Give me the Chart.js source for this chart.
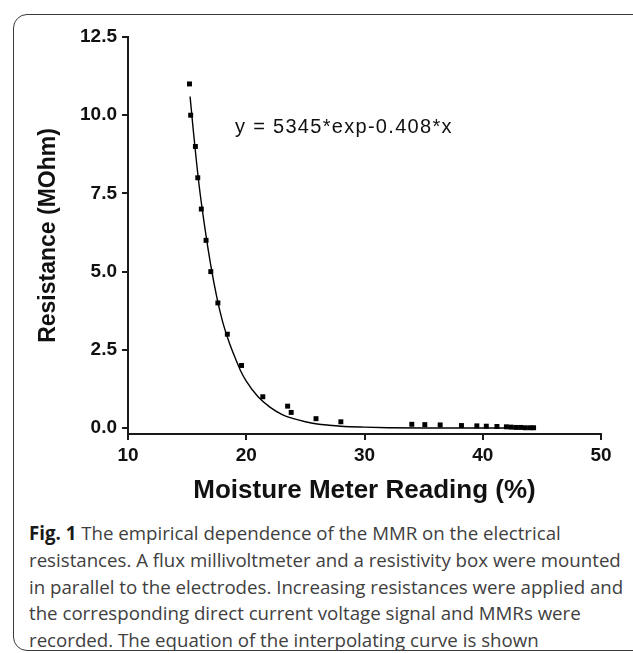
<!DOCTYPE html>
<html>
<head>
<meta charset="utf-8">
<script src="https://cdn.jsdelivr.net/npm/chart.js@4.4.0/dist/chart.umd.min.js"></script>
<style>
  html, body { margin: 0; padding: 0; background: #fff; }
  body { width: 633px; height: 653px; position: relative; overflow: hidden; }
  #frame {
    position: absolute; left: 13px; top: 14px; width: 640px; height: 637px;
    border: 1.5px solid #3a3a3a; border-radius: 14px; box-sizing: border-box;
  }
  #wrap { position: absolute; left: 0; top: 0; width: 633px; height: 520px; }
  #caption {
    position: absolute; left: 29px; top: 520px; color: #404040;
    font-family: "Open Sans", "Noto Sans", sans-serif; white-space: nowrap;
  }
  #caption div { height: 26.8px; line-height: 26.8px; }
  #caption b { color: #1a1a1a; }
</style>
</head>
<body>
<div id="frame"></div>
<div id="wrap"><canvas id="fitChart"></canvas></div>
<div id="caption">
  <div><b>Fig. 1</b> The empirical dependence of the MMR on the electrical</div>
  <div id="fullLine">resistances. A flux millivoltmeter and a resistivity box were mounted</div>
  <div>in parallel to the electrodes. Increasing resistances were applied and</div>
  <div>the corresponding direct current voltage signal and MMRs were</div>
  <div>recorded. The equation of the interpolating curve is shown</div>
</div>
<script>
// measured points (moisture %, resistance MOhm)
const readingX = [15.2, 15.3, 15.7, 15.9, 16.2, 16.6, 17.0, 17.6, 18.4, 19.6, 21.4, 23.5, 23.8, 25.9, 28.0,
  34.0, 35.1, 36.4, 38.2, 39.5, 40.3, 41.2, 42.0, 42.4, 42.8, 43.2, 43.6, 44.0, 44.3];
const resistY = [11, 10, 9, 8, 7, 6, 5, 4, 3, 2, 1, 0.7, 0.5, 0.3, 0.2,
  0.12, 0.11, 0.1, 0.08, 0.07, 0.06, 0.05, 0.04, 0.03, 0.02, 0.02, 0.01, 0.01, 0.01];

// fitted curve
const curveX = [15.25, 15.5, 16, 16.5, 17, 17.5, 18, 18.5, 19, 19.5, 20, 21, 22, 23, 24, 25, 26, 27, 28, 30, 32, 35, 40, 44.3];
const curveY = [10.6, 9.6, 7.8, 6.4, 5.2, 4.2, 3.4, 2.8, 2.3, 1.85, 1.5, 1.0, 0.67, 0.44, 0.3, 0.2, 0.13, 0.09, 0.06, 0.03, 0.01, 0.0, 0.0, 0.0];

const yTicks = [0, 2.5, 5, 7.5, 10, 12.5];
const xTicks = [10, 20, 30, 40, 50];
const equation = "y = 5345*exp-0.408*x";

// caption: size the font so the full-width line fits the box
(function fitCaption() {
  const c = document.createElement("canvas").getContext("2d");
  c.font = '20px "Open Sans"';
  const w = c.measureText(document.getElementById("fullLine").textContent).width;
  document.getElementById("caption").style.fontSize = (20 * 592 / w).toFixed(2) + "px";
})();

const equationLabel = {
  id: "equationLabel",
  afterDatasetsDraw(chart) {
    const ctx = chart.ctx;
    ctx.save();
    ctx.font = '20px "Liberation Sans", Arial, sans-serif';
    ctx.letterSpacing = "1.3px";
    ctx.fillStyle = "#111";
    ctx.textBaseline = "alphabetic";
    ctx.fillText(equation, 235, 133);
    ctx.restore();
  }
};

const axisColor = "#1a1a1a";
const tickFont = { family: '"Liberation Sans", Arial, sans-serif', size: 19, weight: "bold" };

new Chart(document.getElementById("fitChart").getContext("2d"), {
  type: "scatter",
  data: {
    datasets: [
      {
        label: "Measured",
        data: readingX.map((x, i) => ({ x, y: resistY[i] })),
        pointStyle: "rect",
        pointRadius: 3.5,
        backgroundColor: "#000",
        borderColor: "#000",
        borderWidth: 0,
        showLine: false
      },
      {
        label: "Fit",
        data: curveX.map((x, i) => ({ x, y: curveY[i] })),
        showLine: true,
        pointRadius: 0,
        borderColor: "#000",
        borderWidth: 1.4,
        cubicInterpolationMode: "monotone"
      }
    ]
  },
  options: {
    responsive: true,
    maintainAspectRatio: false,
    animation: false,
    layout: { padding: { top: 37, right: 32, left: 0, bottom: 0 } },
    plugins: { legend: { display: false }, tooltip: { enabled: false } },
    scales: {
      x: {
        type: "linear",
        min: 10,
        max: 50,
        afterBuildTicks: s => { s.ticks = xTicks.map(v => ({ value: v })); },
        afterFit: s => { s.height = 86; },
        border: { display: true, color: axisColor, width: 2 },
        grid: { drawOnChartArea: false, drawTicks: true, tickLength: 6, color: axisColor, lineWidth: 2 },
        ticks: { color: "#111", font: tickFont, padding: 4, maxRotation: 0 },
        title: {
          display: true,
          text: "Moisture Meter Reading (%)",
          color: "#111",
          font: { family: '"Liberation Sans", Arial, sans-serif', size: 26, weight: "bold" },
          padding: { top: 0, bottom: 14 }
        }
      },
      y: {
        type: "linear",
        min: -0.19,
        max: 12.5,
        afterBuildTicks: s => { s.ticks = yTicks.map(v => ({ value: v })); },
        afterFit: s => { s.width = 128; },
        border: { display: true, color: axisColor, width: 2 },
        grid: { drawOnChartArea: false, drawTicks: true, tickLength: 6, color: axisColor, lineWidth: 2 },
        ticks: { color: "#111", font: tickFont, padding: 5, callback: v => v.toFixed(1) },
        title: {
          display: true,
          text: "Resistance (MOhm)",
          color: "#111",
          font: { family: '"Liberation Sans", Arial, sans-serif', size: 23, weight: "bold" },
          padding: { top: 35, bottom: 0 }
        }
      }
    }
  },
  plugins: [equationLabel]
});
</script>
</body>
</html>
